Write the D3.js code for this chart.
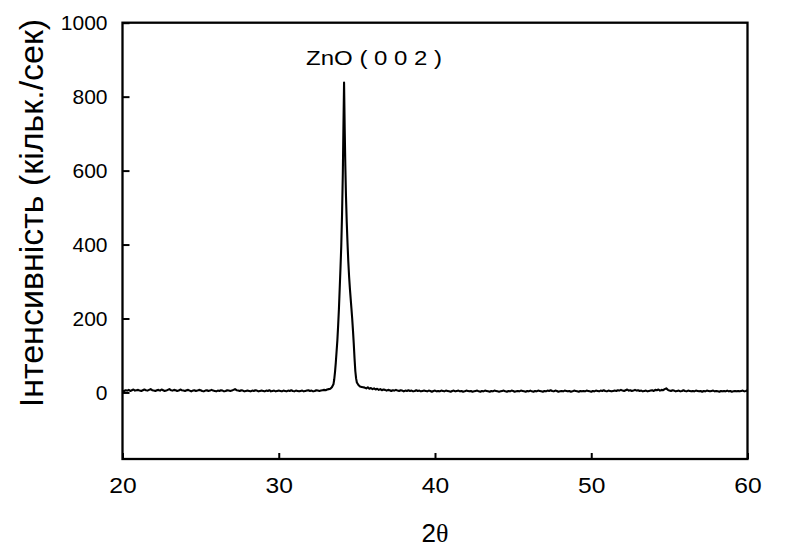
<!DOCTYPE html>
<html>
<head>
<meta charset="utf-8">
<script src="https://cdn.jsdelivr.net/npm/d3@7"></script>
<style>
  html, body { margin: 0; padding: 0; background: #fff; }
  svg { display: block; }
</style>
</head>
<body>
<svg id="chart" width="797" height="557"></svg>
<script>
// ---- Data ----
const xTicks = [20, 30, 40, 50, 60];
const yTicks = [0, 200, 400, 600, 800, 1000];
const xDomain = [20, 60];
const yDomain = [-180, 1000];

// baseline before the peak: 2θ from 20.0, step 0.1
const leftStart = 20.0, leftStep = 0.1;
const leftCounts = [
  2,4,6,5,7,4,6,8,5,6,
  7,5,4,6,8,6,5,7,9,6,
  5,4,6,7,5,8,6,4,5,7,
  9,6,5,7,6,4,5,8,6,5,
  4,6,7,5,3,5,6,4,5,7,
  6,4,3,5,6,4,5,7,5,4,
  3,5,4,6,5,3,4,6,5,4,
  5,7,9,6,5,4,6,5,3,4,
  5,4,3,5,4,6,5,3,4,5,
  4,3,5,4,6,3,4,5,3,4,
  5,4,3,5,4,3,5,4,6,4,
  3,5,4,3,4,5,3,4,5,6,
  4,5,3,4,6,5,4,5,6,7,
  6,8,9
];

// ZnO (002) peak region
const peakTheta = [33.3,33.4,33.5,33.55,33.6,33.65,33.7,33.75,33.8,33.85,33.9,33.95,34.0,34.05,34.1,34.14,34.18,
                   34.22,34.26,34.3,34.35,34.4,34.45,34.5,34.55,34.6,34.65,34.7,34.75,34.8,34.85,34.9,34.95,35.0,35.1,35.2,35.3,35.4];
const peakCounts = [10,14,22,35,55,80,110,140,180,225,280,335,395,480,590,720,838,
                    715,615,535,462,405,355,315,283,255,228,200,168,132,92,58,38,27,20,16,15,14];

// baseline after the peak: 2θ from 35.5, step 0.1
const rightStart = 35.5, rightStep = 0.1;
const rightCounts = [
  13,11,14,10,12,9,11,8,10,7,
  9,6,8,7,5,7,6,4,6,5,
  7,5,4,6,5,3,5,4,6,4,
  5,3,4,6,4,5,3,4,5,4,
  3,5,4,2,4,5,3,4,3,5,
  4,3,5,4,3,2,4,5,3,4,
  5,3,4,2,3,5,4,3,4,2,
  3,4,5,3,2,4,3,5,4,3,
  2,4,3,5,4,3,2,3,4,5,
  3,2,4,3,5,4,2,3,4,3,
  5,4,3,2,4,3,5,3,2,4,
  3,5,4,3,2,4,3,5,4,6,
  4,3,5,4,2,3,4,3,5,4,
  3,4,2,3,5,4,3,2,4,3,
  4,3,5,4,3,2,4,3,5,4,
  3,5,4,6,4,3,5,4,3,4,
  5,4,6,5,7,5,4,6,8,5,
  6,4,5,7,5,6,4,5,3,4,
  5,3,4,5,6,4,7,6,8,5,
  7,6,9,11,7,5,4,6,5,3,
  4,5,3,4,6,4,3,5,4,3,
  4,3,5,4,3,4,2,4,3,5,
  4,3,4,5,3,4,3,2,4,3,
  4,3,5,3,4,2,3,4,3,4,
  3,4,5,3,4,6
];

const peakLabel = "ZnO ( 0 0 2 )";
const peakLabelTheta = 34.18;
const yLabel = "Інтенсивність (кільк./сек)";

// ---- Build series ----
const series = [];
leftCounts.forEach((v, i) => series.push([+(leftStart + i * leftStep).toFixed(2), v]));
peakTheta.forEach((t, i) => series.push([t, peakCounts[i]]));
rightCounts.forEach((v, i) => series.push([+(rightStart + i * rightStep).toFixed(2), v]));

// ---- Layout ----
const svg = d3.select("#chart");
const L = 122.5, R = 747.5, T = 22.7, B = 459;

const x = d3.scaleLinear().domain(xDomain).range([L, R]);
const y = d3.scaleLinear().domain(yDomain).range([B, T]);

const font = "'Liberation Sans', Arial, Helvetica, sans-serif";

// line
svg.append("path")
  .datum(series)
  .attr("fill", "none")
  .attr("stroke", "#000")
  .attr("stroke-width", 2.1)
  .attr("stroke-linejoin", "round")
  .attr("d", d3.line().x(d => x(d[0])).y(d => y(d[1])));

// axes
const ax = svg.append("g").attr("transform", `translate(0,${B})`)
  .call(d3.axisBottom(x).tickValues(xTicks).tickSizeInner(-6).tickSizeOuter(0).tickPadding(18).tickFormat(d3.format("d")));
const ay = svg.append("g").attr("transform", `translate(${L},0)`)
  .call(d3.axisLeft(y).tickValues(yTicks).tickSizeInner(-7).tickSizeOuter(0).tickPadding(15).tickFormat(d3.format("d")));

[ax, ay].forEach(g => {
  g.select(".domain").remove();
  g.selectAll(".tick line").attr("stroke", "#000").attr("stroke-width", 2);
  g.selectAll(".tick text").attr("fill", "#000").style("font-family", font);
});
ax.selectAll(".tick text").style("font-size", "22px")
  .attr("transform", function () { return `translate(0,${d3.select(this).attr("y")}) scale(1.12,1) translate(0,${-d3.select(this).attr("y")})`; });
ay.selectAll(".tick text").style("font-size", "21px");

// frame
svg.append("rect")
  .attr("x", L).attr("y", T)
  .attr("width", R - L).attr("height", B - T)
  .attr("fill", "none").attr("stroke", "#000").attr("stroke-width", 2.3);

// peak label
svg.append("text")
  .attr("transform", `translate(${x(peakLabelTheta) + 30},65) scale(1.2,1)`)
  .attr("text-anchor", "middle")
  .style("font-family", font)
  .style("font-size", "20px")
  .attr("fill", "#000")
  .text(peakLabel);

// x label "2θ"
const xl = svg.append("text")
  .attr("x", (L + R) / 2)
  .attr("y", 542)
  .attr("text-anchor", "middle")
  .style("font-size", "26px")
  .attr("fill", "#000");
xl.append("tspan").style("font-family", font).text("2");
xl.append("tspan").style("font-family", "'Liberation Serif', 'Times New Roman', serif").text("θ");

// y label
svg.append("text")
  .attr("transform", `translate(43,213) rotate(-90)`)
  .attr("text-anchor", "middle")
  .style("font-family", font)
  .style("font-size", "34px")
  .attr("fill", "#000")
  .text(yLabel);
</script>
</body>
</html>
